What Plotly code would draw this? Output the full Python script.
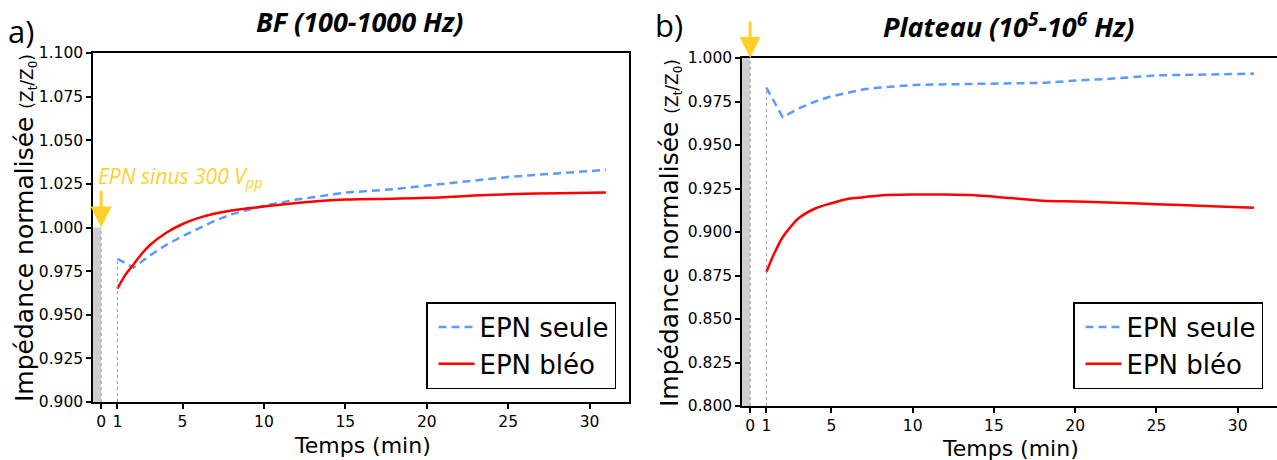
import plotly.graph_objects as go

# ---------------- data ----------------
# Panel a) BF (100-1000 Hz)
t_a_seule = [1, 2, 3, 4, 5, 6, 7, 8, 9, 10, 12, 15, 18, 20, 22, 25, 28, 31]
z_a_seule = [0.982, 0.977, 0.984, 0.990, 0.995, 0.9995, 1.004, 1.0075, 1.010, 1.0125,
             1.016, 1.020, 1.022, 1.024, 1.026, 1.029, 1.031, 1.033]
t_a_bleo = [1, 1.5, 2, 2.5, 3, 4, 5, 6, 7, 8, 9, 10, 12, 15, 18, 20, 25, 31]
z_a_bleo = [0.965, 0.973, 0.979, 0.985, 0.990, 0.997, 1.002, 1.0055, 1.008, 1.0098,
            1.011, 1.012, 1.014, 1.016, 1.0165, 1.017, 1.019, 1.020]

# Panel b) Plateau (1e5-1e6 Hz)
t_b_seule = [1, 2, 3, 4, 5, 6, 7, 8, 10, 13, 15, 18, 20, 22, 25, 28, 31]
z_b_seule = [0.983, 0.966, 0.971, 0.975, 0.978, 0.980, 0.982, 0.983, 0.9845, 0.985,
             0.9853, 0.9857, 0.987, 0.988, 0.990, 0.9905, 0.991]
t_b_bleo = [1, 1.5, 2, 2.5, 3, 4, 5, 6, 7, 8, 10, 12, 14, 16, 18, 20, 22, 25, 28, 31]
z_b_bleo = [0.877, 0.888, 0.897, 0.903, 0.908, 0.9135, 0.9165, 0.919, 0.920, 0.921,
            0.9215, 0.9215, 0.921, 0.9195, 0.918, 0.9175, 0.917, 0.916, 0.915, 0.914]

x_ticks = [0, 1, 5, 10, 15, 20, 25, 30]
y_range_a = [0.900, 1.100]
y_range_b = [0.800, 1.000]
x_range = [-0.5, 32.42]
t_pulse = 0      # EPN application
t_first = 1      # first measurement
baseline = 1.0

series_names = ["EPN seule", "EPN bléo"]
color_seule = "#5B9BFF"
color_bleo = "#FF0000"
yellow = "#FFD02A"

W, H = 1277, 460

fig = go.Figure()

fig.add_trace(go.Scatter(x=t_a_seule, y=z_a_seule, mode="lines", name=series_names[0],
                         line=dict(color=color_seule, width=2.5, dash="8px,5px"),
                         xaxis="x", yaxis="y", legend="legend"))
fig.add_trace(go.Scatter(x=t_a_bleo, y=z_a_bleo, mode="lines", name=series_names[1],
                         line=dict(color=color_bleo, width=2.5, shape="spline"),
                         xaxis="x", yaxis="y", legend="legend"))
fig.add_trace(go.Scatter(x=t_b_seule, y=z_b_seule, mode="lines", name=series_names[0],
                         line=dict(color=color_seule, width=2.5, dash="8px,5px"),
                         xaxis="x2", yaxis="y2", legend="legend2"))
fig.add_trace(go.Scatter(x=t_b_bleo, y=z_b_bleo, mode="lines", name=series_names[1],
                         line=dict(color=color_bleo, width=2.5, shape="spline"),
                         xaxis="x2", yaxis="y2", legend="legend2"))

shapes = []
for xr, yr, yrng, first in [("x", "y", y_range_a, max(z_a_seule[0], z_a_bleo[0])),
                            ("x2", "y2", y_range_b, max(z_b_seule[0], z_b_bleo[0]))]:
    shapes.append(dict(type="rect", xref=xr, yref=yr, x0=x_range[0], x1=t_pulse,
                       y0=yrng[0], y1=baseline, fillcolor="#cfcfcf", line=dict(width=0),
                       layer="below"))
    shapes.append(dict(type="line", xref=xr, yref=yr, x0=t_pulse, x1=t_pulse,
                       y0=yrng[0], y1=baseline, line=dict(color="#999999", width=1, dash="dot")))
    shapes.append(dict(type="line", xref=xr, yref=yr, x0=t_first, x1=t_first,
                       y0=yrng[0], y1=first, line=dict(color="#999999", width=1, dash="dot")))

axis_common = dict(showgrid=False, zeroline=False, showline=True, linecolor="black",
                   linewidth=1.5, ticks="outside", ticklen=5, tickwidth=1.5, automargin=False,
                   tickcolor="black", tickfont=dict(family="DejaVu Sans", size=15.5, color="black"))

dom_xa = [93 / W, 629 / W]
dom_xb = [742 / W, 1.0]
dom_ya = [1 - 402 / H, 1 - 53 / H]
dom_yb = [1 - 406 / H, 1 - 58 / H]

leg_common = dict(yanchor="bottom", xanchor="right", bgcolor="white", bordercolor="black",
                  borderwidth=1.5, font=dict(family="DejaVu Sans", size=26, color="black"),
                  tracegroupgap=0, itemwidth=36, indentation=6)

fig.update_layout(
    width=W, height=H,
    margin=dict(l=0, r=0, t=0, b=0, autoexpand=False),
    paper_bgcolor="white", plot_bgcolor="white",
    shapes=shapes,
    xaxis=dict(axis_common, domain=dom_xa, range=x_range, tickvals=x_ticks,
               mirror=True, anchor="y"),
    yaxis=dict(axis_common, domain=dom_ya, range=y_range_a, tick0=0.9, dtick=0.025,
               tickformat=".3f", mirror=True, anchor="x"),
    xaxis2=dict(axis_common, domain=dom_xb, range=x_range, tickvals=x_ticks,
                mirror=True, anchor="y2"),
    yaxis2=dict(axis_common, domain=dom_yb, range=y_range_b, tick0=0.8, dtick=0.025,
                tickformat=".3f", anchor="x2"),
    legend=dict(leg_common, x=616 / W, y=1 - 389 / H),
    legend2=dict(leg_common, x=1263 / W, y=1 - 389 / H),
)


def txt(text, px, py, size, family="DejaVu Sans", color="black", **kw):
    d = dict(text=text, x=px / W, y=1 - py / H, xref="paper", yref="paper",
             xanchor="center", yanchor="middle", showarrow=False,
             font=dict(family=family, size=size, color=color))
    d.update(kw)
    return d


ann = []
ann.append(txt("a)", 21, 31, 31, family="Open Sans"))
ann.append(txt("b)", 669, 25, 31, family="Open Sans"))
ann.append(txt("<b><i>BF (100-1000 Hz)</i></b>", 359, 22, 27, family="Open Sans"))
ann.append(txt("<b><i>Plateau (10<sup>5</sup>-10<sup>6</sup> Hz)</i></b>", 1009, 25, 27,
               family="Open Sans"))
ytitle = ("Impédance normalisée <span style='font-size:17px'>(Z<sub>t</sub>/Z<sub>0</sub>)</span>")
ann.append(txt(ytitle, 25, 228, 25, textangle=-90))
ann.append(txt(ytitle, 670, 233, 25, textangle=-90))
ann.append(txt("Temps (min)", 362, 445, 22))
ann.append(txt("Temps (min)", 1010, 448, 22))
ann.append(dict(x=t_pulse, y=baseline, xref="x", yref="y", ax=0, ay=-38, showarrow=True,
                arrowhead=2, arrowsize=1.4, arrowwidth=3, arrowcolor=yellow, standoff=0, text=""))
ann.append(dict(x=t_pulse, y=baseline, xref="x2", yref="y2", ax=0, ay=-38, showarrow=True,
                arrowhead=2, arrowsize=1.4, arrowwidth=3, arrowcolor=yellow, standoff=0, text=""))
ann.append(dict(text="<i>EPN sinus 300 V<sub>pp</sub></i>", x=-0.3, y=1.029, xref="x", yref="y",
                xanchor="left", yanchor="middle", showarrow=False,
                font=dict(family="Open Sans", size=21, color=yellow)))
fig.update_layout(annotations=ann)

fig.write_html("out.html", config={"displayModeBar": False},
               post_script="document.body.style.margin='0px';")
